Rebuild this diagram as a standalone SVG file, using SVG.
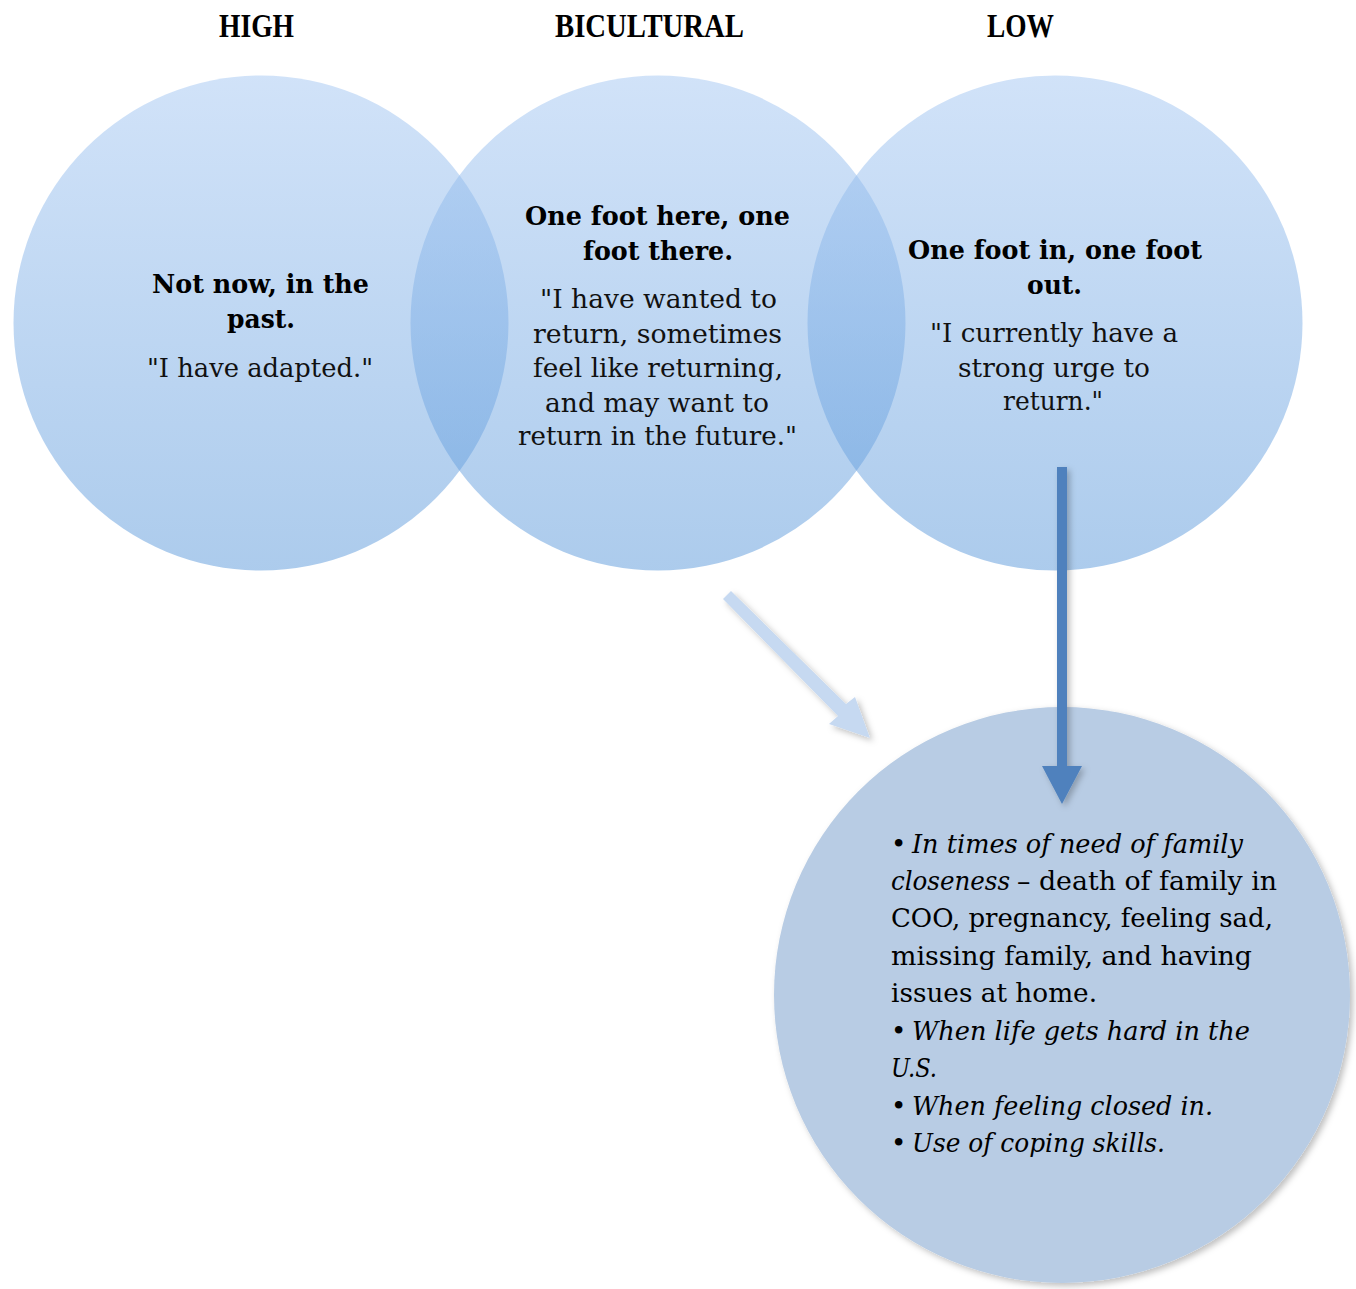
<svg xmlns="http://www.w3.org/2000/svg" width="1356" height="1289" viewBox="0 0 1356 1289">
<defs>
<linearGradient id="cg" x1="0" y1="0" x2="0" y2="1">
<stop offset="0" stop-color="#a3c6f2"/>
<stop offset="1" stop-color="#5a98da"/>
</linearGradient>
<filter id="sh" x="-20%" y="-20%" width="140%" height="140%">
<feDropShadow dx="3" dy="3" stdDeviation="3" flood-color="#000" flood-opacity="0.25"/>
</filter>
<style>
.c{fill:url(#cg);fill-opacity:0.5}
.hd{font-family:"Liberation Serif",serif;font-weight:bold;font-size:33px;fill:#000;text-anchor:middle}
.b{font-family:"DejaVu Serif",serif;font-weight:bold;font-size:25.5px;fill:#000;text-anchor:middle}
.r{font-family:"DejaVu Serif",serif;font-size:26px;fill:#111;text-anchor:middle}
.l{font-family:"DejaVu Serif",serif;font-size:26px;fill:#000}
.i{font-style:italic}
</style>
</defs>
<rect width="1356" height="1289" fill="#fff"/>
<g id="headers">
<text class="hd" x="256.5" y="37" textLength="75" lengthAdjust="spacingAndGlyphs">HIGH</text>
<text class="hd" x="649.5" y="37" textLength="189" lengthAdjust="spacingAndGlyphs">BICULTURAL</text>
<text class="hd" x="1020.5" y="37" textLength="67" lengthAdjust="spacingAndGlyphs">LOW</text>
</g>
<g id="node-high"><circle class="c" cx="261" cy="323" r="247.5"/></g>
<g id="node-bicultural"><circle class="c" cx="658" cy="323" r="247.5"/></g>
<g id="node-low"><circle class="c" cx="1055" cy="323" r="247.5"/></g>
<g id="node-triggers"><circle cx="1062" cy="995" r="288" fill="#b8cce4" filter="url(#sh)"/></g>
<g id="connectors" filter="url(#sh)">
<path d="M723,599 L731,591 L846,704 L855,697 L870,738 L829,724 L838,716 Z" fill="#c6d9f1"/>
<path d="M1057,467 L1067,467 L1067,766 L1082,766 L1062,804 L1042,766 L1057,766 Z" fill="#4f81bd"/>
</g>
<g id="text-high">
<text class="b" x="260.5" y="293" textLength="217" lengthAdjust="spacingAndGlyphs">Not now, in the</text>
<text class="b" x="261" y="328" textLength="68" lengthAdjust="spacingAndGlyphs">past.</text>
<text class="r" x="260" y="377" textLength="226" lengthAdjust="spacingAndGlyphs">"I have adapted."</text>
</g>
<g id="text-bicultural">
<text class="b" x="657.5" y="225" textLength="265" lengthAdjust="spacingAndGlyphs">One foot here, one</text>
<text class="b" x="658" y="260" textLength="150" lengthAdjust="spacingAndGlyphs">foot there.</text>
<text class="r" x="658.5" y="308" textLength="237" lengthAdjust="spacingAndGlyphs">"I have wanted to</text>
<text class="r" x="657.5" y="343" textLength="249" lengthAdjust="spacingAndGlyphs">return, sometimes</text>
<text class="r" x="658" y="377" textLength="250" lengthAdjust="spacingAndGlyphs">feel like returning,</text>
<text class="r" x="657" y="412" textLength="224" lengthAdjust="spacingAndGlyphs">and may want to</text>
<text class="r" x="657.5" y="445" textLength="279" lengthAdjust="spacingAndGlyphs">return in the future."</text>
</g>
<g id="text-low">
<text class="b" x="1055" y="259" textLength="294" lengthAdjust="spacingAndGlyphs">One foot in, one foot</text>
<text class="b" x="1054.5" y="294" textLength="55" lengthAdjust="spacingAndGlyphs">out.</text>
<text class="r" x="1054" y="342" textLength="248" lengthAdjust="spacingAndGlyphs">"I currently have a</text>
<text class="r" x="1054" y="377" textLength="192" lengthAdjust="spacingAndGlyphs">strong urge to</text>
<text class="r" x="1053" y="410" textLength="100" lengthAdjust="spacingAndGlyphs">return."</text>
</g>
<g id="text-triggers">
<text class="l" x="891" y="853">•</text>
<text class="l i" x="912" y="853" textLength="331" lengthAdjust="spacingAndGlyphs">In times of need of family</text>
<text class="l i" x="891" y="890" textLength="119" lengthAdjust="spacingAndGlyphs">closeness</text>
<text class="l" x="1017" y="890" textLength="260" lengthAdjust="spacingAndGlyphs">– death of family in</text>
<text class="l" x="891" y="927" textLength="382" lengthAdjust="spacingAndGlyphs">COO, pregnancy, feeling sad,</text>
<text class="l" x="891" y="965" textLength="361" lengthAdjust="spacingAndGlyphs">missing family, and having</text>
<text class="l" x="891" y="1002" textLength="206" lengthAdjust="spacingAndGlyphs">issues at home.</text>
<text class="l" x="891" y="1040">•</text>
<text class="l i" x="912" y="1040" textLength="338" lengthAdjust="spacingAndGlyphs">When life gets hard in the</text>
<text class="l i" x="891" y="1077" textLength="46" lengthAdjust="spacingAndGlyphs">U.S.</text>
<text class="l" x="891" y="1115">•</text>
<text class="l i" x="912" y="1115" textLength="301" lengthAdjust="spacingAndGlyphs">When feeling closed in.</text>
<text class="l" x="891" y="1152">•</text>
<text class="l i" x="912" y="1152" textLength="253" lengthAdjust="spacingAndGlyphs">Use of coping skills.</text>
</g>
</svg>
